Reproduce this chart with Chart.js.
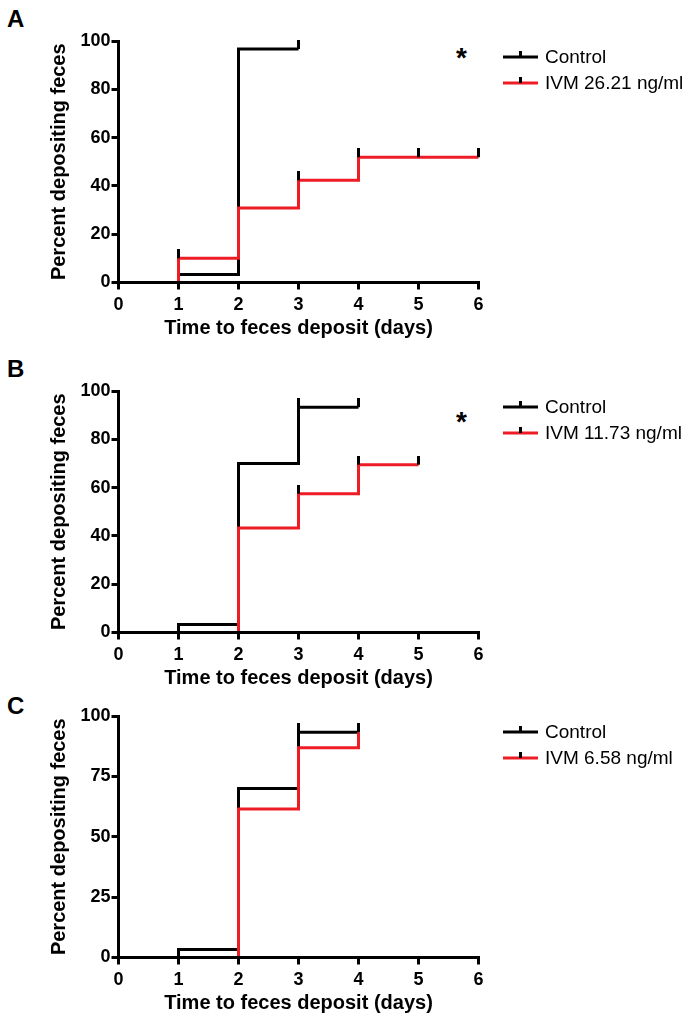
<!DOCTYPE html>
<html>
<head>
<meta charset="utf-8">
<script src="https://cdn.jsdelivr.net/npm/chart.js@4"></script>
<style>
  body { margin: 0; background: #fff; width: 695px; height: 1023px; position: relative; overflow: hidden;
         font-family: "Liberation Sans", Arial, sans-serif; }
  canvas { position: absolute; left: 0; }
  .panel { position: absolute; left: 7px; font-weight: bold; font-size: 24px; line-height: 24px; }
  .star { position: absolute; font-weight: bold; font-size: 28px; line-height: 28px; }
</style>
</head>
<body>
<div class="panel" style="top:7px">A</div>
<div class="panel" style="top:357px">B</div>
<div class="panel" style="top:694px">C</div>
<div class="star" style="left:456px;top:44px">*</div>
<div class="star" style="left:456px;top:408px">*</div>

<canvas id="chartA" width="695" height="342" style="top:0px"></canvas>
<canvas id="chartB" width="695" height="352" style="top:340px"></canvas>
<canvas id="chartC" width="695" height="327" style="top:690px"></canvas>

<script>
// shared axes
const days = [0, 1, 2, 3, 4, 5, 6];
const pctTicksAB = [0, 20, 40, 60, 80, 100];
const pctTicksC = [0, 25, 50, 75, 100];
const xTitle = "Time to feces deposit (days)";
const yTitle = "Percent depositing feces";

// panel A
const controlA_days = [0, 1, 2, 3];
const controlA_pct = [0, 3.3, 96.7, 96.7];
const controlA_censor = [3];
const ivmA_label = "IVM 26.21 ng/ml";
const ivmA_days = [0, 1, 2, 3, 4, 5, 6];
const ivmA_pct = [0, 10, 30.8, 42.3, 51.9, 51.9, 51.9];
const ivmA_censor = [1, 3, 4, 5, 6];

// panel B
const controlB_days = [0, 1, 2, 3, 4];
const controlB_pct = [0, 3.3, 70, 93.3, 93.3];
const controlB_censor = [3, 4];
const ivmB_label = "IVM 11.73 ng/ml";
const ivmB_days = [0, 1, 2, 3, 4, 5];
const ivmB_pct = [0, 0, 43.3, 57.5, 69.5, 69.5];
const ivmB_censor = [3, 4, 5];

// panel C
const controlC_days = [0, 1, 2, 3, 4];
const controlC_pct = [0, 3.3, 70, 93.3, 93.3];
const controlC_censor = [3, 4];
const ivmC_label = "IVM 6.58 ng/ml";
const ivmC_days = [0, 1, 2, 3, 4];
const ivmC_pct = [0, 0, 61.5, 86.9, 93.3];
const ivmC_censor = [];

const FONT = '"Liberation Sans", Arial, sans-serif';

// censor mark: short vertical bar sitting on top of the line
const tickImg = document.createElement("canvas");
tickImg.width = 3;
tickImg.height = 18;
const tctx = tickImg.getContext("2d");
tctx.fillStyle = "#000";
tctx.fillRect(0, 0, 3, 9);

function steps(xs, ys) {
    return xs.map((x, i) => ({ x: x, y: ys[i] }));
}

function censors(xs, ys, at) {
    return at.map(d => ({ x: d, y: ys[xs.indexOf(d)] }));
}

const stepLegend = {
    id: "stepLegend",
    afterDraw(chart, args, opts) {
        const ctx = chart.ctx;
        ctx.save();
        let y = opts.top;
        chart.data.datasets.filter(d => !d.isCensor).forEach(d => {
            ctx.lineWidth = 3;
            ctx.strokeStyle = d.borderColor;
            ctx.beginPath();
            ctx.moveTo(503, y);
            ctx.lineTo(538, y);
            ctx.stroke();
            ctx.strokeStyle = "#000";
            ctx.beginPath();
            ctx.moveTo(520.5, y);
            ctx.lineTo(520.5, y - 6);
            ctx.stroke();
            ctx.fillStyle = "#000";
            ctx.font = "19px " + FONT;
            ctx.textBaseline = "middle";
            ctx.fillText(d.label, 545, y + 1);
            y += opts.gap;
        });
        ctx.restore();
    }
};

function makeChart(id, p) {
    const ctx = document.getElementById(id).getContext("2d");
    return new Chart(ctx, {
        type: "line",
        data: {
            datasets: [
                {
                    label: "Control",
                    data: steps(p.cDays, p.cPct),
                    stepped: true,
                    borderColor: "#000000",
                    borderWidth: 3,
                    pointRadius: 0,
                    fill: false,
                    order: 2,
                    clip: false
                },
                {
                    label: p.ivmLabel,
                    data: steps(p.iDays, p.iPct),
                    stepped: true,
                    borderColor: "#ee1c25",
                    borderWidth: 3,
                    pointRadius: 0,
                    fill: false,
                    order: 1,
                    clip: false
                },
                {
                    label: "censored",
                    isCensor: true,
                    data: censors(p.cDays, p.cPct, p.cCensor).concat(censors(p.iDays, p.iPct, p.iCensor)),
                    showLine: false,
                    pointStyle: tickImg,
                    pointRadius: 9,
                    order: 0,
                    clip: false
                }
            ]
        },
        options: {
            responsive: false,
            animation: false,
            events: [],
            layout: { padding: { top: p.padTop, right: 216.5, bottom: 1.5, left: 0 } },
            plugins: {
                legend: { display: false },
                tooltip: { enabled: false },
                stepLegend: { top: p.legendTop, gap: 26 }
            },
            scales: {
                x: {
                    type: "linear",
                    min: 0,
                    max: 6,
                    afterBuildTicks: s => { s.ticks = days.map(v => ({ value: v })); },
                    afterFit: s => { s.height = 58; },
                    grid: { display: true, drawOnChartArea: false, drawTicks: true, tickLength: 7, lineWidth: 3, color: "#000", z: 1 },
                    border: { display: true, width: 3, color: "#000", z: 1 },
                    ticks: { color: "#000", padding: 5, maxRotation: 0, font: { family: FONT, size: 18, weight: "bold" } },
                    title: { display: true, text: xTitle, color: "#000", padding: { top: 0, bottom: 0 },
                             font: { family: FONT, size: 20, weight: "bold" } }
                },
                y: {
                    min: 0,
                    max: 100,
                    afterBuildTicks: s => { s.ticks = p.yTicks.map(v => ({ value: v })); },
                    afterFit: s => { s.width = 118.5; },
                    grid: { display: true, drawOnChartArea: false, drawTicks: true, tickLength: 7, lineWidth: 3, color: "#000" },
                    border: { display: true, width: 3, color: "#000" },
                    ticks: { color: "#000", padding: 1, font: { family: FONT, size: 18, weight: "bold" } },
                    title: { display: true, text: yTitle, color: "#000", padding: { top: 47, bottom: 0 },
                             font: { family: FONT, size: 20, weight: "bold" } }
                }
            }
        },
        plugins: [stepLegend]
    });
}

makeChart("chartA", {
    cDays: controlA_days, cPct: controlA_pct, cCensor: controlA_censor,
    iDays: ivmA_days, iPct: ivmA_pct, iCensor: ivmA_censor,
    ivmLabel: ivmA_label, yTicks: pctTicksAB, padTop: 41, legendTop: 57
});
makeChart("chartB", {
    cDays: controlB_days, cPct: controlB_pct, cCensor: controlB_censor,
    iDays: ivmB_days, iPct: ivmB_pct, iCensor: ivmB_censor,
    ivmLabel: ivmB_label, yTicks: pctTicksAB, padTop: 51, legendTop: 67
});
makeChart("chartC", {
    cDays: controlC_days, cPct: controlC_pct, cCensor: controlC_censor,
    iDays: ivmC_days, iPct: ivmC_pct, iCensor: ivmC_censor,
    ivmLabel: ivmC_label, yTicks: pctTicksC, padTop: 26, legendTop: 42
});
</script>
</body>
</html>
